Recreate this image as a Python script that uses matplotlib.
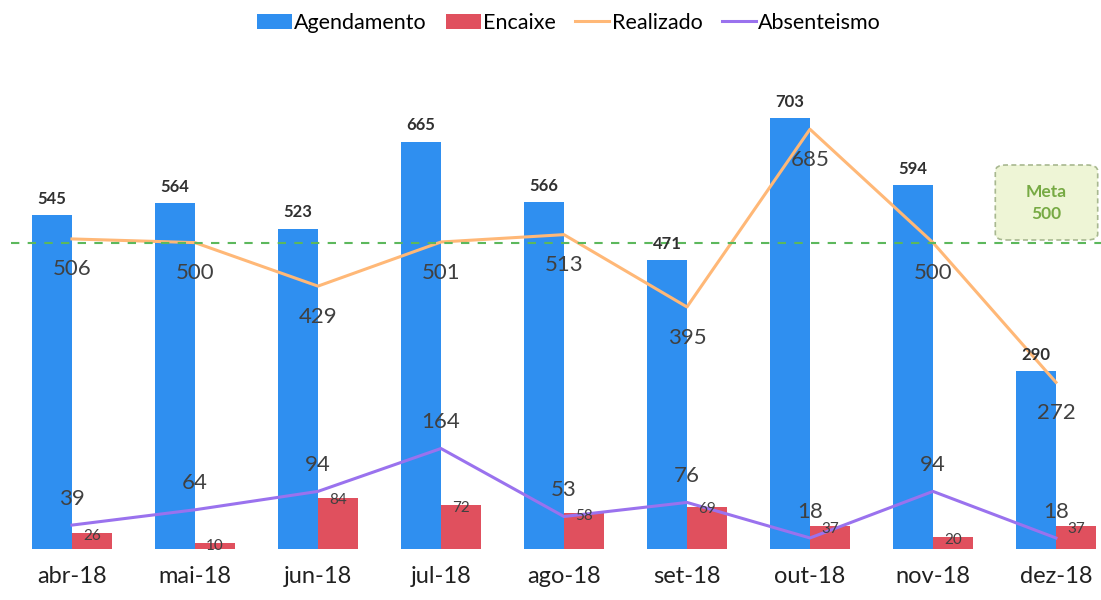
import numpy as np
import matplotlib.pyplot as plt
from matplotlib.patches import FancyBboxPatch

plt.rcParams['font.family'] = ['Lato', 'DejaVu Sans']

meses = ["abr-18", "mai-18", "jun-18", "jul-18", "ago-18", "set-18", "out-18", "nov-18", "dez-18"]
agendamento = [545, 564, 523, 665, 566, 471, 703, 594, 290]
encaixe = [26, 10, 84, 72, 58, 69, 37, 20, 37]
realizado = [506, 500, 429, 501, 513, 395, 685, 500, 272]
absenteismo = [39, 64, 94, 164, 53, 76, 18, 94, 18]
meta = 500

AZUL = "#2f8ff0"
VERMELHO = "#e0505e"
LARANJA = "#ffb877"
ROXO = "#9a72ee"
VERDE = "#5cb85c"
TEXTO = "#404040"

def main():
	fig = plt.figure(figsize=(11.01, 6), dpi=100)
	ax = fig.add_axes([0, 0.085, 1, 0.815])

	x = np.arange(len(meses))
	w = 0.325

	b1 = ax.bar(x - w/2, agendamento, w, color=AZUL, label="Agendamento")
	b2 = ax.bar(x + w/2, encaixe, w, color=VERMELHO, label="Encaixe")
	l1, = ax.plot(x, realizado, color=LARANJA, lw=2.2, label="Realizado")
	l2, = ax.plot(x, absenteismo, color=ROXO, lw=2.2, label="Absenteismo")
	ax.axhline(meta, color=VERDE, ls=(0, (4, 4)), lw=1.5, xmin=0.01)

	# rótulos
	for i in range(len(meses)):
		ax.annotate(str(agendamento[i]), (x[i] - w/2, agendamento[i]), xytext=(0, 6),
			textcoords="offset points", ha="center", va="bottom", fontsize=12, fontweight="bold", color="#303030")
		ax.annotate(str(encaixe[i]), (x[i] + w/2, encaixe[i]), xytext=(0, -2),
			textcoords="offset points", ha="center", va="center", fontsize=11, color=TEXTO)
		ax.annotate(str(realizado[i]), (x[i], realizado[i]), xytext=(0, -22),
			textcoords="offset points", ha="center", va="center", fontsize=16, color=TEXTO)
		ax.annotate(str(absenteismo[i]), (x[i], absenteismo[i]), xytext=(0, 19),
			textcoords="offset points", ha="center", va="center", fontsize=16, color=TEXTO)

	# caixa da meta
	box = FancyBboxPatch((0.904, 0.6), 0.093, 0.125, transform=fig.transFigure,
		boxstyle="round,pad=0,rounding_size=0.01", facecolor="#eef5d6", edgecolor="#a8b890",
		ls=(0, (3, 2)), lw=1.2)
	fig.patches.append(box)
	fig.text(0.9505, 0.662, "Meta\n%d" % meta, ha="center", va="center", fontsize=12.5,
		fontweight="bold", color="#77aa44", linespacing=1.5)

	ax.set_xlim(-0.585, 8.366)
	ax.set_ylim(0, 798)
	ax.set_xticks(x)
	ax.set_xticklabels(meses, fontsize=17, color="#202020")
	ax.tick_params(axis="x", length=0, pad=12)
	ax.set_yticks([])
	for s in ax.spines.values():
		s.set_visible(False)

	fig.legend([b1, b2, l1, l2], ["Agendamento", "Encaixe", "Realizado", "Absenteismo"],
		loc="center", bbox_to_anchor=(0.517, 0.962), ncol=4, frameon=False,
		fontsize=15.5, handlelength=1.6, handletextpad=0.1, columnspacing=0.9)

	fig.savefig("out.png", dpi=100)


if __name__=="__main__":
	main()
